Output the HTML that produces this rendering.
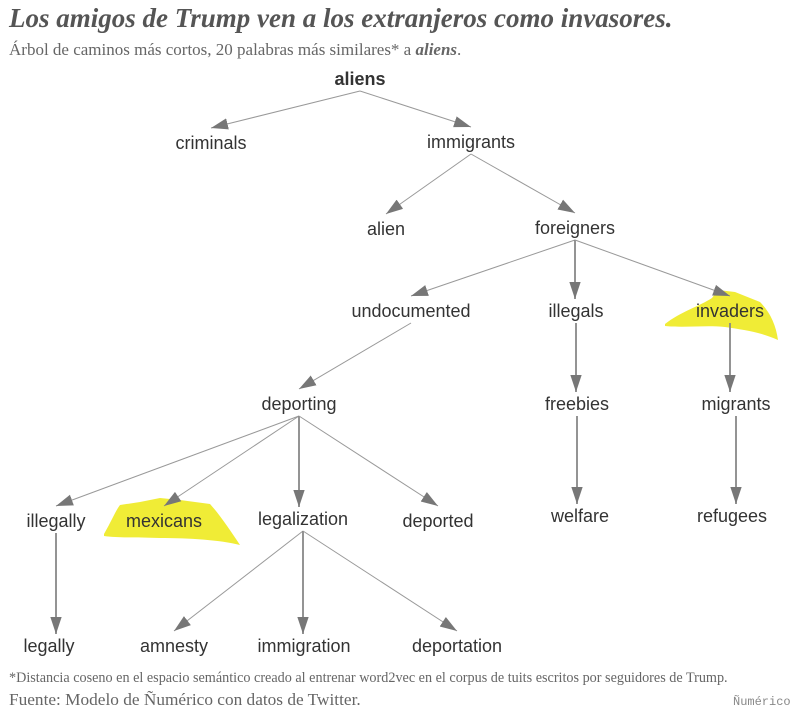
<!DOCTYPE html>
<html><head><meta charset="utf-8">
<style>
html,body{margin:0;padding:0;background:#fff;width:806px;height:718px;overflow:hidden}
#title{position:absolute;left:9px;top:3px;font-family:"Liberation Serif",serif;font-style:italic;font-weight:bold;font-size:27px;color:#555;margin:0;white-space:nowrap}
#sub{position:absolute;left:9px;top:40px;font-family:"Liberation Serif",serif;font-size:17px;color:#666;white-space:nowrap}
#note{position:absolute;left:9px;top:670px;font-family:"Liberation Serif",serif;font-size:14.2px;color:#666;white-space:nowrap}
#src{position:absolute;left:9px;top:690px;font-family:"Liberation Serif",serif;font-size:17.3px;color:#666;white-space:nowrap}
#logo{position:absolute;left:733px;top:695px;font-family:"Liberation Mono",monospace;font-size:12px;color:#888}
svg{position:absolute;left:0;top:0}
</style></head><body>
<h1 id="title">Los amigos de Trump ven a los extranjeros como invasores.</h1>
<div id="sub">Árbol de caminos más cortos, 20 palabras más similares* a <b><i>aliens</i></b>.</div>
<svg id="chart" width="806" height="718">
<defs>
<marker id="ah" viewBox="0 0 18 12" refX="18" refY="6" markerWidth="17" markerHeight="12" markerUnits="userSpaceOnUse" orient="auto">
<path d="M0,0 L18,6 L0,12 Z" fill="#777"/>
</marker>
</defs>
<g>
<path d="M665,324 C680,312 700,306 712,298 L718,290 L735,292 L760,302 C770,312 776,325 778,340 C760,332 745,330 725,327 C705,325 685,328 665,326 Z" fill="#eeea20" opacity="0.9"/>
</g>
<g>
<path d="M104,534 C112,520 116,510 120,505 L140,502 L160,498 L180,500 L210,504 C220,515 230,530 240,545 C220,540 190,538 160,538 C135,537 118,538 104,536 Z" fill="#eeea20" opacity="0.9"/>
</g>
<g id="edges"></g>
<g id="nodes"></g>
</svg>
<div id="note">*Distancia coseno en el espacio semántico creado al entrenar word2vec en el corpus de tuits escritos por seguidores de Trump.</div>
<div id="src">Fuente: Modelo de Ñumérico con datos de Twitter.</div>
<div id="logo">Ñumérico</div>
<script>
const words = ["aliens","criminals","immigrants","alien","foreigners","undocumented","illegals","invaders","deporting","freebies","migrants","illegally","mexicans","legalization","deported","welfare","refugees","legally","amnesty","immigration","deportation"];
const parents = [-1,0,0,2,2,4,4,4,5,6,7,8,8,8,8,9,10,11,13,13,13];
const nodeX = [360,211,471,386,575,411,576,730,299,577,736,56,164,303,438,580,732,49,174,304,457];
const nodeY = [79,143,142,229,228,311,311,311,404,404,404,521,521,519,521,516,516,646,646,646,646];
const NS="http://www.w3.org/2000/svg";
const eg=document.getElementById('edges'), ng=document.getElementById('nodes');
for(let i=0;i<words.length;i++){
  const p=parents[i];
  if(p>=0){
    const l=document.createElementNS(NS,'line');
    
    
    const vert=Math.abs(nodeX[i]-nodeX[p])<8;
    const x1=nodeX[p], y1=nodeY[p]+12, x2=vert?nodeX[p]:nodeX[i], y2=nodeY[i]-(vert?12:15);
    l.setAttribute('x1',x1);l.setAttribute('y1',y1);l.setAttribute('x2',x2);l.setAttribute('y2',y2);
    l.setAttribute('stroke',vert?'#888':'#999');
    l.setAttribute('stroke-width',vert?1.8:1);
    l.setAttribute('marker-end','url(#ah)');
    eg.appendChild(l);
  }
  const t=document.createElementNS(NS,'text');
  
  
  t.setAttribute('x',nodeX[i]);t.setAttribute('y',nodeY[i]+6);
  t.setAttribute('text-anchor','middle');
  t.setAttribute('font-family','"Liberation Sans", sans-serif');
  t.setAttribute('font-size','18');
  t.setAttribute('fill','#333');
  if(i===0) t.setAttribute('font-weight','bold');
  t.textContent=words[i];
  ng.appendChild(t);
}
</script>
</body></html>
